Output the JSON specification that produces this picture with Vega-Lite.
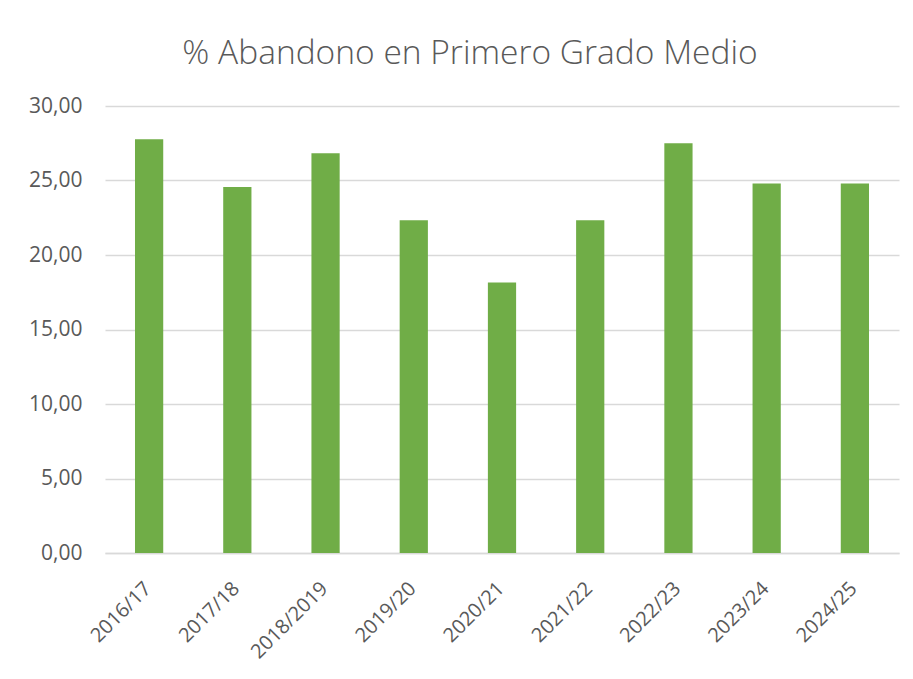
{
  "$schema": "https://vega.github.io/schema/vega-lite/v6.json",
  "width": 794,
  "height": 447,
  "autosize": "none",
  "padding": {"left": 105, "top": 106, "right": 14, "bottom": 126},
  "background": "white",
  "title": {
    "text": "% Abandono en Primero Grado Medio",
    "font": "Open Sans",
    "fontWeight": 300,
    "fontSize": 33.5,
    "color": "#595959",
    "anchor": "middle",
    "baseline": "alphabetic",
    "dx": -32,
    "offset": -2
  },
  "data": {
    "values": [
      {"curso": "2016/17", "valor": 27.77},
      {"curso": "2017/18", "valor": 24.57},
      {"curso": "2018/2019", "valor": 26.83},
      {"curso": "2019/20", "valor": 22.33},
      {"curso": "2020/21", "valor": 18.16},
      {"curso": "2021/22", "valor": 22.33},
      {"curso": "2022/23", "valor": 27.5},
      {"curso": "2023/24", "valor": 24.8},
      {"curso": "2024/25", "valor": 24.8}
    ]
  },
  "mark": {"type": "bar", "color": "#70AD47"},
  "encoding": {
    "x": {
      "field": "curso",
      "type": "nominal",
      "sort": null,
      "title": null,
      "scale": {"paddingInner": 0.68, "paddingOuter": 0.34},
      "axis": {
        "labelAngle": -45,
        "labelAlign": "right",
        "labelBaseline": "top",
        "labelFont": "Open Sans",
        "labelFontSize": 20,
        "labelColor": "#595959",
        "labelPadding": 25,
        "labelOffset": -8,
        "ticks": false,
        "domainColor": "#d9d9d9",
        "domainWidth": 1.5,
        "grid": false
      }
    },
    "y": {
      "field": "valor",
      "type": "quantitative",
      "title": null,
      "scale": {"domain": [0, 30], "nice": false},
      "axis": {
        "values": [0, 5, 10, 15, 20, 25, 30],
        "format": ".2f",
        "labelFont": "Open Sans",
        "labelFontSize": 21,
        "labelColor": "#595959",
        "labelPadding": 23,
        "ticks": false,
        "domain": false,
        "gridColor": "#d9d9d9",
        "gridWidth": 1.5
      }
    }
  },
  "config": {
    "view": {"stroke": null},
    "locale": {
      "number": {"decimal": ",", "thousands": ".", "grouping": [3], "currency": ["", " €"]}
    }
  }
}
